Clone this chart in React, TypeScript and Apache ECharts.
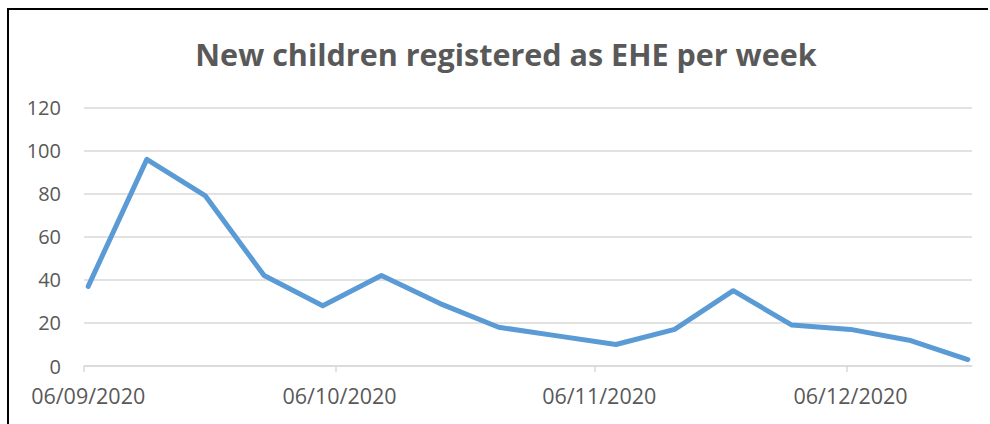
import { useEffect, useRef } from "react";
import * as echarts from "echarts";

// Weekly count of newly registered elective home education (EHE) children
const weekStarts = [
  "2020-09-06", "2020-09-13", "2020-09-20", "2020-09-27",
  "2020-10-04", "2020-10-11", "2020-10-18", "2020-10-25",
  "2020-11-01", "2020-11-08", "2020-11-15", "2020-11-22",
  "2020-11-29", "2020-12-06", "2020-12-13", "2020-12-20",
];
const newRegistrations = [37, 96, 79, 42, 28, 42, 29, 18, 14, 10, 17, 35, 19, 17, 12, 3];

// Month markers shown on the date axis
const monthTicks = ["2020-09-06", "2020-10-06", "2020-11-06", "2020-12-06"];
const axisStart = "2020-09-06";
const axisEnd = "2020-12-21";

const yMin = 0;
const yMax = 120;
const yStep = 20;

const titleText = "New children registered as EHE per week";

const HALF_DAY = 12 * 3600 * 1000;

function dayStart(iso: string): number {
  const [y, m, d] = iso.split("-").map(Number);
  return new Date(y, m - 1, d).getTime();
}

function formatDate(v: number): string {
  const dt = new Date(v);
  const dd = String(dt.getDate()).padStart(2, "0");
  const mm = String(dt.getMonth() + 1).padStart(2, "0");
  return `${dd}/${mm}/${dt.getFullYear()}`;
}

export default function App() {
  const ref = useRef<HTMLDivElement>(null);

  useEffect(() => {
    if (!ref.current) return;
    const chart = echarts.init(ref.current, undefined, { renderer: "svg" });
    const labelFont = "'Open Sans', 'Noto Sans', sans-serif";

    chart.setOption({
      animation: false,
      backgroundColor: "#ffffff",
      grid: { left: 84, right: 18, top: 107.7, bottom: 58, containLabel: false },
      xAxis: {
        // dates kept as millisecond timestamps on a linear axis
        type: "value",
        min: dayStart(axisStart),
        max: dayStart(axisEnd),
        axisLine: { show: true, lineStyle: { color: "#d9d9d9", width: 1.5 } },
        axisTick: {
          show: true,
          length: 6,
          lineStyle: { color: "#d9d9d9", width: 1.5 },
          customValues: monthTicks.map(dayStart),
        },
        axisLabel: {
          customValues: monthTicks.map((d) => dayStart(d) + HALF_DAY),
          formatter: (v: number) => formatDate(v),
          color: "#595959",
          fontFamily: labelFont,
          fontSize: 21.5,
          margin: 18,
          hideOverlap: false,
          showMinLabel: true,
          showMaxLabel: true,
        },
        splitLine: { show: false },
      },
      yAxis: {
        type: "value",
        min: yMin,
        max: yMax,
        interval: yStep,
        axisLine: { show: false },
        axisTick: { show: false },
        axisLabel: {
          color: "#595959",
          fontFamily: labelFont,
          fontSize: 20,
          margin: 23,
        },
        splitLine: { show: true, lineStyle: { color: "#d9d9d9", width: 1.5 } },
      },
      series: [
        {
          type: "line",
          data: weekStarts.map((d, i) => [dayStart(d) + HALF_DAY, newRegistrations[i]]),
          showSymbol: false,
          lineStyle: { color: "#5b9bd5", width: 5, cap: "round", join: "round" },
        },
      ],
      graphic: [
        {
          type: "text",
          x: 506,
          y: 54,
          style: {
            text: titleText,
            fill: "#595959",
            font: "bold 30.5px 'Open Sans', Lato, sans-serif",
            textAlign: "center",
            textVerticalAlign: "middle",
          },
        },
        {
          type: "line",
          shape: { x1: 8, y1: 8, x2: 8, y2: 424 },
          style: { stroke: "#000000", lineWidth: 2 },
        },
        {
          type: "line",
          shape: { x1: 7, y1: 9, x2: 988, y2: 9 },
          style: { stroke: "#000000", lineWidth: 2 },
        },
      ],
    });

    return () => chart.dispose();
  }, []);

  return (
    <div
      ref={ref}
      style={{ position: "fixed", left: 0, top: 0, width: 990, height: 424, background: "#fff" }}
    />
  );
}
